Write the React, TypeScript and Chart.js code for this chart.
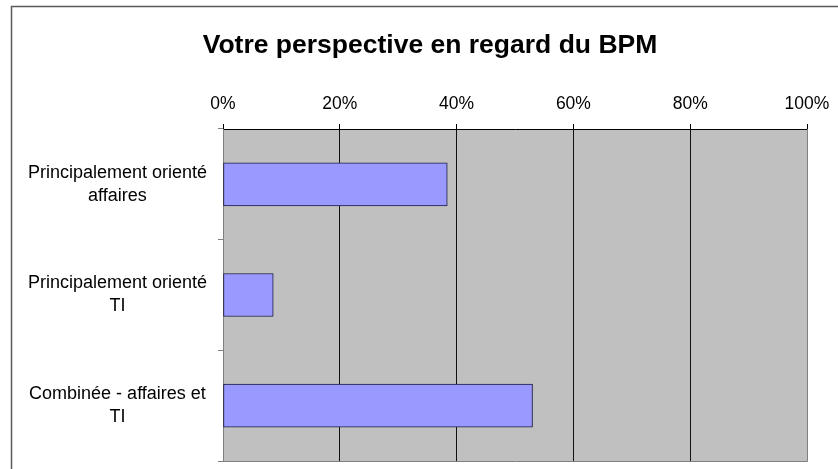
import React, { useEffect, useRef } from "react";
import { Chart, registerables } from "chart.js";

Chart.register(...registerables);

const title = "Votre perspective en regard du BPM";
const categories: string[][] = [
  ["Principalement orienté", "affaires"],
  ["Principalement orienté", "TI"],
  ["Combinée - affaires et", "TI"],
];
const shares: number[] = [0.384, 0.086, 0.53];
const tickValues: number[] = [0, 0.2, 0.4, 0.6, 0.8, 1];

const FONT = "'Liberation Sans', Arial, sans-serif";

const framePlugin = {
  id: "framePlugin",
  beforeDraw(chart: any) {
    const { ctx, chartArea: a } = chart;
    ctx.save();
    ctx.fillStyle = "#ffffff";
    ctx.fillRect(0, 0, chart.width, chart.height);
    // outer frame
    ctx.strokeStyle = "#5a5a5a";
    ctx.lineWidth = 1.5;
    ctx.beginPath();
    ctx.moveTo(11.5, chart.height);
    ctx.lineTo(11.5, 6.5);
    ctx.lineTo(chart.width, 6.5);
    ctx.stroke();
    // plot background
    ctx.fillStyle = "#C0C0C0";
    ctx.fillRect(a.left, a.top, a.right - a.left, a.bottom - a.top);
    ctx.restore();
  },
  afterDatasetsDraw(chart: any) {
    const { ctx, chartArea: a } = chart;
    ctx.save();
    ctx.strokeStyle = "#808080";
    ctx.lineWidth = 1;
    ctx.beginPath();
    ctx.moveTo(Math.round(a.left) + 0.5, Math.round(a.bottom) + 0.5);
    ctx.lineTo(Math.round(a.right) + 0.5, Math.round(a.bottom) + 0.5);
    ctx.lineTo(Math.round(a.right) + 0.5, Math.round(a.top));
    ctx.stroke();
    // title
    ctx.fillStyle = "#000000";
    ctx.font = `bold 26.5px ${FONT}`;
    ctx.textAlign = "center";
    ctx.textBaseline = "alphabetic";
    ctx.fillText(title, 430, 53);
    ctx.restore();
  },
};

export default function App() {
  const ref = useRef<HTMLCanvasElement | null>(null);

  useEffect(() => {
    document.body.style.margin = "0";
    const canvas = ref.current;
    if (!canvas) return;
    const chart = new Chart(canvas, {
      type: "bar",
      data: {
        labels: categories,
        datasets: [
          {
            data: shares,
            backgroundColor: "#9999FF",
            borderColor: "#1a1a40",
            borderWidth: 1,
            borderSkipped: false,
            barThickness: 43,
          },
        ],
      },
      plugins: [framePlugin],
      options: {
        indexAxis: "y",
        responsive: false,
        animation: false,
        layout: { autoPadding: false, padding: { left: 0, top: 0, right: 31, bottom: 8 } },
        plugins: {
          legend: { display: false },
          title: { display: false },
          tooltip: { enabled: false },
        },
        scales: {
          x: {
            position: "top",
            min: 0,
            max: 1,
            afterFit: (s: any) => {
              s.height = 129;
              s.paddingLeft = 0;
              s.paddingRight = 0;
            },
            afterBuildTicks: (s: any) => {
              s.ticks = tickValues.map((v) => ({ value: v }));
            },
            ticks: {
              color: "#000000",
              font: { family: FONT, size: 17.5 },
              padding: 9,
              maxRotation: 0,
              callback: (v: any) => `${Math.round(Number(v) * 100)}%`,
            },
            grid: {
              color: (c: any) =>
                c.tick && (c.tick.value === 0 || c.tick.value === 1) ? "rgba(0,0,0,0)" : "#111111",
              tickColor: "#000000",
              tickLength: 5,
              lineWidth: 1,
            },
            border: { display: true, color: "#000000", width: 1 },
          },
          y: {
            position: "left",
            afterFit: (s: any) => {
              s.width = 223;
              s.paddingTop = 0;
              s.paddingBottom = 0;
            },
            ticks: {
              color: "#000000",
              font: { family: FONT, size: 18, lineHeight: 1.28 },
              crossAlign: "center",
              padding: 11,
            },
            grid: {
              display: true,
              drawOnChartArea: false,
              offset: true,
              tickLength: 5,
              tickColor: "#808080",
            },
            border: { display: true, color: "#808080", width: 1 },
          },
        },
      },
    } as any);
    return () => chart.destroy();
  }, []);

  return (
    <div style={{ width: 838, height: 469 }}>
      <canvas ref={ref} width={838} height={469} style={{ display: "block" }} />
    </div>
  );
}
